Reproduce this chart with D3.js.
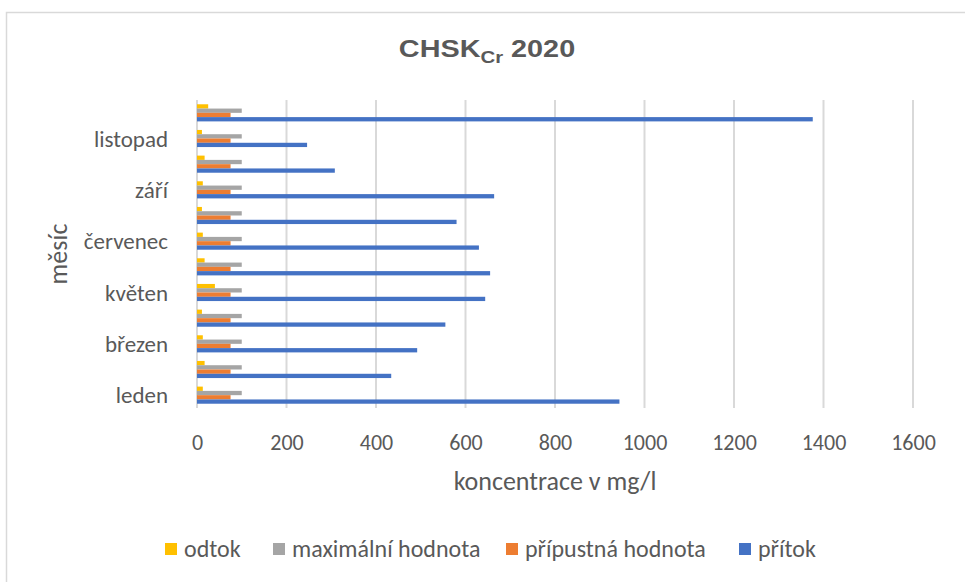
<!DOCTYPE html>
<html>
<head>
<meta charset="utf-8">
<script src="https://cdn.jsdelivr.net/npm/d3@7"></script>
<style>
  body { margin: 0; background: #fff; }
  text { font-family: Calibri, Carlito, "Open Sans", "Noto Sans", sans-serif; fill: #595959; }
</style>
</head>
<body>
<div id="chart"></div>
<script>
// months, bottom to top
const months = ['leden', 'únor', 'březen', 'duben', 'květen', 'červen',
    'červenec', 'srpen', 'září', 'říjen', 'listopad', 'prosinec'];
const shownMonths = ['leden', 'březen', 'květen', 'červenec', 'září', 'listopad'];

// values in mg/l
const pritok = [944, 434, 492, 555, 644, 655, 630, 580, 664, 308, 246, 1376];
const pripustna = [75, 75, 75, 75, 75, 75, 75, 75, 75, 75, 75, 75];
const maximalni = [100, 100, 100, 100, 100, 100, 100, 100, 100, 100, 100, 100];
const odtok = [13, 17, 13, 11, 40, 17, 13, 11, 13, 17, 11, 25];

const xTicks = [0, 200, 400, 600, 800, 1000, 1200, 1400, 1600];

const series = [
    { key: 'odtok', name: 'odtok', values: odtok, color: '#FFC000' },
    { key: 'max', name: 'maximální hodnota', values: maximalni, color: '#A5A5A5' },
    { key: 'pripust', name: 'přípustná hodnota', values: pripustna, color: '#ED7D31' },
    { key: 'pritok', name: 'přítok', values: pritok, color: '#4472C4' },
];

const width = 965;
const height = 582;
const plot = { left: 197, right: 913, top: 100, bottom: 408 };

const svg = d3.select('#chart')
    .append('svg')
    .attr('width', width)
    .attr('height', height);

// chart frame, cut off on the right and bottom like the source
svg.append('rect')
    .attr('x', 6.5)
    .attr('y', 12.5)
    .attr('width', 980)
    .attr('height', 600)
    .attr('fill', 'none')
    .attr('stroke', '#d9d9d9')
    .attr('stroke-width', 1.5);

const x = d3.scaleLinear()
    .domain([0, 1600])
    .range([plot.left, plot.right]);

const y = d3.scaleBand()
    .domain(months.slice().reverse())
    .range([plot.top, plot.bottom])
    .paddingInner(1 / 3)
    .paddingOuter(1 / 6);

const yInner = d3.scaleBand()
    .domain(series.map((s) => s.key))
    .range([0, y.bandwidth()]);

// grid
svg.append('g')
    .selectAll('line')
    .data(xTicks)
    .enter()
    .append('line')
    .attr('x1', (d) => x(d))
    .attr('x2', (d) => x(d))
    .attr('y1', plot.top)
    .attr('y2', plot.bottom)
    .attr('stroke', '#d9d9d9')
    .attr('stroke-width', 2);

// bars
series.forEach((s) => {
    svg.append('g')
        .selectAll('rect')
        .data(months.map((m, i) => ({ month: m, value: s.values[i] })))
        .enter()
        .append('rect')
        .attr('x', x(0))
        .attr('y', (d) => y(d.month) + yInner(s.key))
        .attr('width', (d) => x(d.value) - x(0))
        .attr('height', yInner.bandwidth())
        .attr('fill', s.color);
});

// x axis labels
const xAxis = svg.append('g')
    .attr('transform', 'translate(0,' + (plot.bottom + 26) + ')')
    .call(d3.axisBottom(x).tickValues(xTicks).tickFormat(d3.format('d')).tickSize(0).tickPadding(0));
xAxis.select('.domain').remove();
xAxis.attr('font-family', null);
xAxis.selectAll('text')
    .attr('font-size', 22)
    .attr('fill', '#595959');

// y axis labels, only every other month
const yAxis = svg.append('g')
    .attr('transform', 'translate(' + (plot.left - 29) + ',0)')
    .call(d3.axisLeft(y).tickValues(shownMonths).tickSize(0).tickPadding(0));
yAxis.select('.domain').remove();
yAxis.attr('font-family', null);
yAxis.selectAll('text')
    .attr('font-size', 23)
    .attr('dy', '0.35em')
    .attr('fill', '#595959');

// axis titles
svg.append('text')
    .attr('x', (plot.left + plot.right) / 2)
    .attr('y', 490)
    .attr('text-anchor', 'middle')
    .attr('font-size', 26)
    .text('koncentrace v mg/l');

svg.append('text')
    .attr('transform', 'translate(67,254) rotate(-90)')
    .attr('text-anchor', 'middle')
    .attr('font-size', 26)
    .text('měsíc');

// title with subscript
const title = svg.append('text')
    .attr('transform', 'translate(487,57) scale(1.2,1)')
    .attr('text-anchor', 'middle')
    .style('font-family', '"Liberation Sans", Arial, sans-serif')
    .attr('font-weight', 'bold')
    .attr('font-size', 24);
title.append('tspan').text('CHSK');
title.append('tspan').attr('font-size', 17).attr('dy', 6).text('Cr');
title.append('tspan').attr('dy', -6).text(' 2020');

// legend
const legendX = [165, 273, 506, 739];
const legend = svg.append('g');
series.forEach((s, i) => {
    legend.append('rect')
        .attr('x', legendX[i])
        .attr('y', 543)
        .attr('width', 12)
        .attr('height', 12)
        .attr('fill', s.color);
    legend.append('text')
        .attr('x', legendX[i] + 19)
        .attr('y', 557)
        .attr('font-size', 24)
        .text(s.name);
});
</script>
</body>
</html>
